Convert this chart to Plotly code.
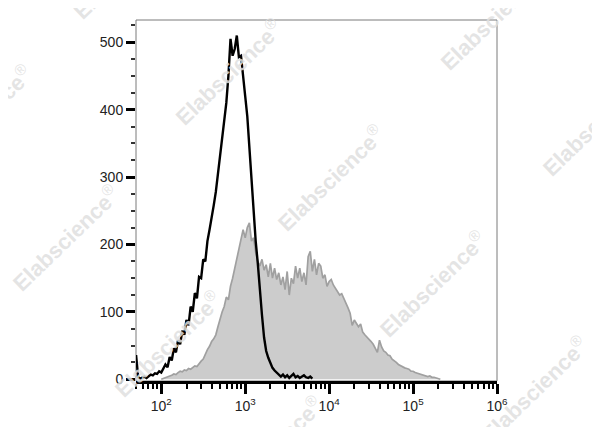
import numpy as np
import plotly.graph_objects as go

# ---- data ----
# x positions are in decades (log10 of fluorescence intensity)
black_log = [1.700, 1.725, 1.750, 1.775, 1.800, 1.825, 1.850, 1.875, 1.900, 1.925,
             1.950, 1.975, 2.000, 2.025, 2.050, 2.075, 2.100, 2.125, 2.150, 2.175,
             2.200, 2.225, 2.250, 2.275, 2.300, 2.325, 2.350, 2.375, 2.400, 2.425,
             2.450, 2.475, 2.500, 2.525, 2.550, 2.575, 2.600, 2.625, 2.650, 2.675,
             2.700, 2.725, 2.750, 2.775, 2.800, 2.825, 2.850, 2.875, 2.900, 2.925,
             2.950, 2.975, 3.000, 3.025, 3.050, 3.075, 3.100, 3.125, 3.150, 3.175,
             3.200, 3.225, 3.250, 3.275, 3.300, 3.325, 3.350, 3.375, 3.400, 3.425,
             3.450, 3.475, 3.500, 3.525, 3.550, 3.575, 3.600, 3.625, 3.650, 3.675,
             3.700, 3.725, 3.750, 3.775, 3.800]
black_counts = [36, 3, 1, 2, 4, 2, 5, 7, 6, 9,
                8, 12, 10, 15, 22, 18, 33, 28, 46, 40,
                58, 52, 72, 66, 88, 80, 108, 100, 128, 120,
                152, 150, 178, 175, 205, 222, 238, 258, 278, 305,
                335, 360, 385, 410, 450, 505, 480, 490, 510, 478,
                480, 445, 420, 390, 345, 285, 245, 205, 172, 130,
                95, 62, 42, 32, 24, 17, 13, 10, 7, 4,
                7, 3, 6, 2, 5, 8, 3, 5, 2, 4,
                6, 3, 2, 4, 1]

gray_log = [2.000, 2.025, 2.050, 2.075, 2.100, 2.125, 2.150, 2.175, 2.200, 2.225,
            2.250, 2.275, 2.300, 2.325, 2.350, 2.375, 2.400, 2.425, 2.450, 2.475,
            2.500, 2.525, 2.550, 2.575, 2.600, 2.625, 2.650, 2.675, 2.700, 2.725,
            2.750, 2.775, 2.800, 2.825, 2.850, 2.875, 2.900, 2.925, 2.950, 2.975,
            3.000, 3.025, 3.050, 3.075, 3.100, 3.125, 3.150, 3.175, 3.200, 3.225,
            3.250, 3.275, 3.300, 3.325, 3.350, 3.375, 3.400, 3.425, 3.450, 3.475,
            3.500, 3.525, 3.550, 3.575, 3.600, 3.625, 3.650, 3.675, 3.700, 3.725,
            3.750, 3.775, 3.800, 3.825, 3.850, 3.875, 3.900, 3.925, 3.950, 3.975,
            4.000, 4.025, 4.050, 4.075, 4.100, 4.125, 4.150, 4.175, 4.200, 4.225,
            4.250, 4.275, 4.300, 4.325, 4.350, 4.375, 4.400, 4.425, 4.450, 4.475,
            4.500, 4.525, 4.550, 4.575, 4.600, 4.625, 4.650, 4.675, 4.700, 4.725,
            4.750, 4.775, 4.800, 4.825, 4.850, 4.875, 4.900, 4.925, 4.950, 4.975,
            5.000, 5.025, 5.050, 5.075, 5.100, 5.125, 5.150, 5.175, 5.200, 5.225,
            5.250, 5.275, 5.300, 5.325]
gray_counts = [0, 1, 2, 3, 5, 6, 8, 7, 10, 12,
               11, 14, 13, 16, 15, 18, 20, 19, 24, 27,
               30, 38, 44, 49, 56, 60, 66, 78, 90, 100,
               108, 122, 118, 138, 150, 165, 180, 192, 205, 222,
               210, 225, 232, 205, 210, 188, 175, 168, 178, 162,
               170, 152, 172, 150, 165, 148, 158, 140, 152, 133,
               160, 125, 150, 142, 168, 150, 165, 145, 158, 140,
               182, 190, 160, 178, 155, 172, 168, 150, 155, 138,
               145, 148, 140, 135, 132, 125, 127, 120, 115, 106,
               98, 80, 88, 83, 78, 82, 70, 66, 63, 60,
               56, 52, 47, 40, 58, 48, 42, 40, 36, 35,
               30, 28, 25, 22, 20, 18, 17, 16, 15, 12,
               12, 10, 9, 7, 7, 5, 5, 4, 5, 3,
               3, 2, 1, 0]

x_tick_vals = [1e2, 1e3, 1e4, 1e5, 1e6]
x_tick_text = ["10<sup>2</sup>", "10<sup>3</sup>", "10<sup>4</sup>", "10<sup>5</sup>", "10<sup>6</sup>"]
y_tick_vals = [0, 100, 200, 300, 400, 500]

# ---- figure ----
fig = go.Figure()
fig.add_trace(go.Scatter(
    x=10 ** np.array(gray_log), y=gray_counts, mode="lines",
    line=dict(color="#a0a0a0", width=1.7), fill="tozeroy", fillcolor="#cccccc",
    showlegend=False, hoverinfo="skip"))
fig.add_trace(go.Scatter(
    x=10 ** np.array(black_log), y=black_counts, mode="lines",
    line=dict(color="#000000", width=2.4),
    showlegend=False, hoverinfo="skip"))

minor_x = []
for d in [10, 100, 1000, 10000, 100000]:
    for m in range(2, 10):
        v = m * d
        if v >= 50:
            minor_x.append(v)

# the page body has an 8px default margin; compensate so the plot area
# lands at x 136..497, y 20..381.5 in the window
OFF = 8
fig.update_layout(
    width=600, height=427,
    margin=dict(l=136 - OFF, r=103 + OFF, t=20 - OFF, b=45.5 + OFF),
    paper_bgcolor="white", plot_bgcolor="white",
    font=dict(family="Liberation Sans, Arial, sans-serif", size=13, color="#222222"),
    xaxis=dict(
        type="log", range=[np.log10(50), 6.0],
        showgrid=False, zeroline=False,
        showline=True, linecolor="black", linewidth=3,
        ticks="outside", ticklen=10, tickwidth=3, tickcolor="black",
        tickvals=x_tick_vals, ticktext=x_tick_text,
        tickfont=dict(size=14, color="#222222"),
        minor=dict(tickvals=minor_x, ticks="outside", ticklen=5, tickwidth=2, tickcolor="black"),
    ),
    yaxis=dict(
        range=[-2.5, 533],
        showgrid=False, zeroline=False, showline=False,
        ticks="outside", ticklen=9, tickwidth=3, tickcolor="black",
        tickvals=y_tick_vals,
        tickfont=dict(size=14, color="#222222"),
        minor=dict(dtick=25, tick0=0, ticks="outside", ticklen=4, tickwidth=1.5, tickcolor="#333333"),
    ),
)

# thin frame around plot area
fig.add_shape(type="rect", xref="paper", yref="paper", x0=0, x1=1, y0=0, y1=1,
              line=dict(color="#7a7a7a", width=1), layer="below")

# watermark (Elabscience) tiled diagonally, centres in window pixels
pl, pr, pt, pb = 136, 497, 20, 381.5
centers = [(126, -34), (-22, 118), (228, 72), (493, 17), (65, 238), (330, 178),
           (595, 123), (167, 344), (432, 284), (269, 450), (534, 390)]
for cx, cy in centers:
    fig.add_annotation(
        x=(cx - pl) / (pr - pl), y=(pb - cy) / (pb - pt), xref="paper", yref="paper",
        text="<b>Elabscience</b><sup>®</sup>", showarrow=False, textangle=-44,
        font=dict(family="Liberation Sans, Arial, sans-serif", size=22, color="rgba(224,224,224,0.85)"),
        xanchor="center", yanchor="middle")

fig.write_html("out.html")
